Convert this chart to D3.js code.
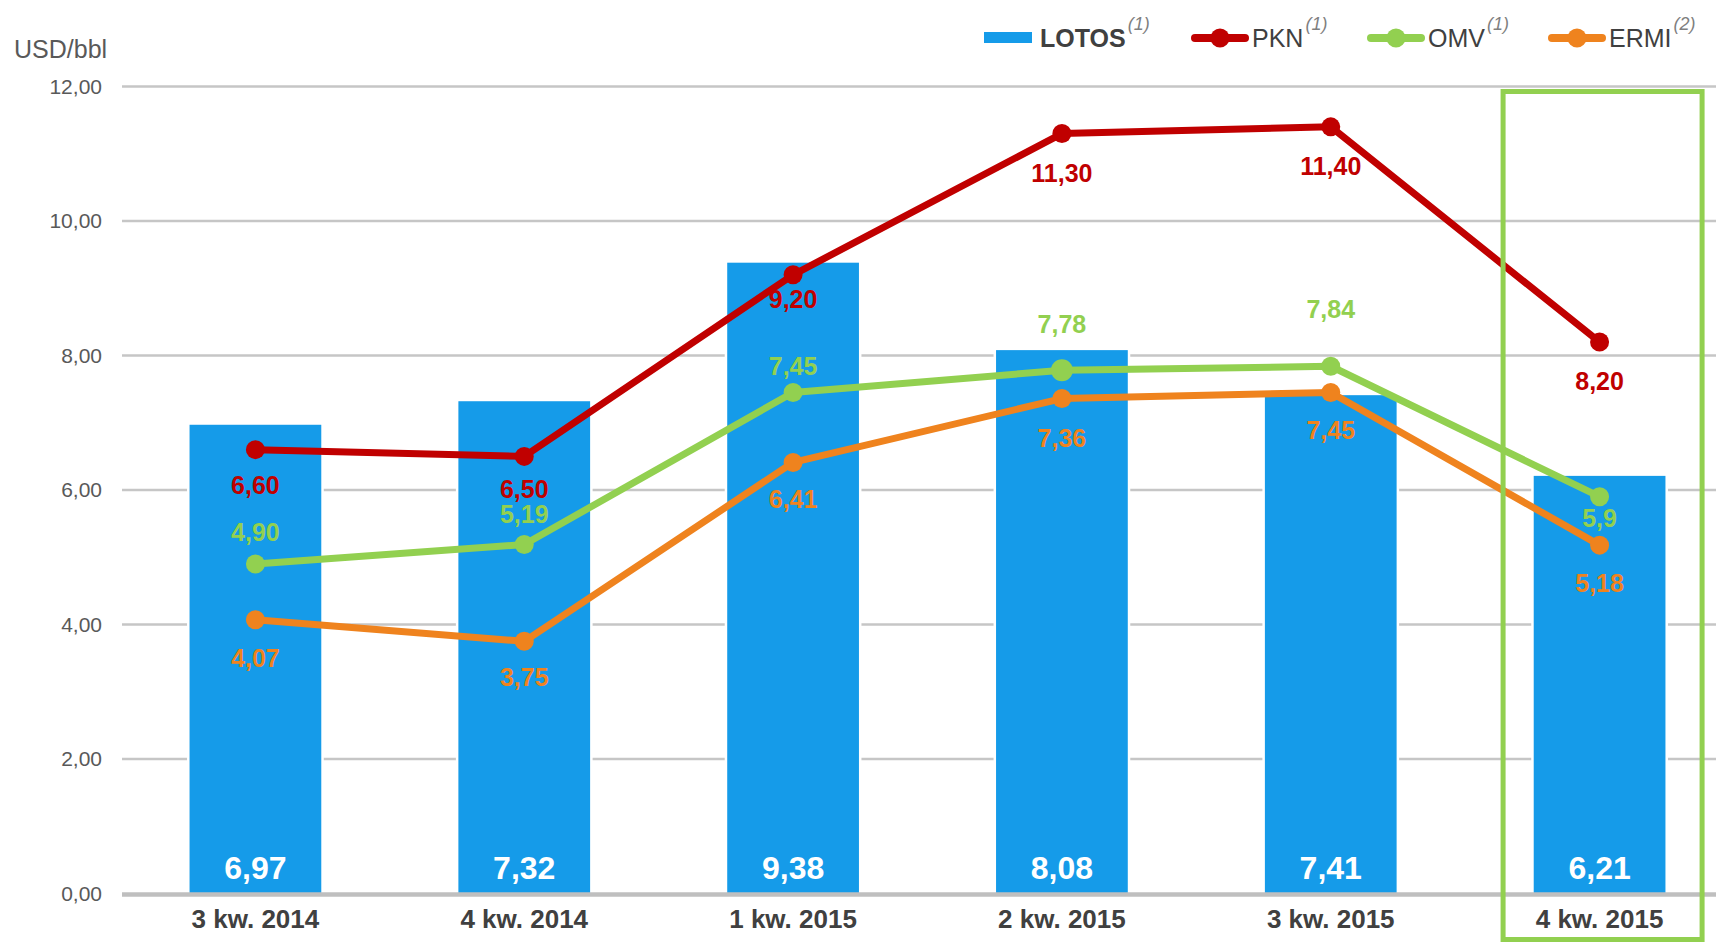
<!DOCTYPE html>
<html>
<head>
  <meta charset=utf-8>
  <title>LOTOS vs PKN / OMV / ERMI</title>
  <script src="https://d3js.org/d3.v7.min.js"></script>
  <style>
    body { margin: 0; background: #fff; }
    svg { display: block; font-family: "Liberation Sans", Arial, sans-serif; }
  </style>
</head>
<body>
<div id="chart"></div>
<script>

// data
var categories = ['3 kw. 2014', '4 kw. 2014', '1 kw. 2015', '2 kw. 2015', '3 kw. 2015', '4 kw. 2015'];
var lotos = [6.97, 7.32, 9.38, 8.08, 7.41, 6.21];
var pkn   = [6.60, 6.50, 9.20, 11.30, 11.40, 8.20];
var omv   = [4.90, 5.19, 7.45, 7.78, 7.84, 5.9];
var ermi  = [4.07, 3.75, 6.41, 7.36, 7.45, 5.18];
var omvText = ['4,90', '5,19', '7,45', '7,78', '7,84', '5,9'];
var yTicks = [0, 2, 4, 6, 8, 10, 12];

var width = 1716, height = 943;
var blue = '#159be9', red = '#c00000', green = '#92d050', orange = '#ef831e';

var fmt = function (v) { return d3.format('.2f')(v).replace('.', ','); };

var series = [
  { name: 'PKN',  sup: '(1)', values: pkn,  color: red,
    text: pkn.map(fmt),  dy: [44, 42, 33, 48, 48, 48] },
  { name: 'OMV',  sup: '(1)', values: omv,  color: green,
    text: omvText,       dy: [-23, -21, -17, -37, -48, 30], big: 3 },
  { name: 'ERMI', sup: '(2)', values: ermi, color: orange,
    text: ermi.map(fmt), dy: [47, 45, 46, 48, 47, 47] }
];

var svg = d3.select('#chart').append('svg')
  .attr('width', width)
  .attr('height', height);

var x = d3.scaleBand()
  .domain(categories)
  .range([121, 1734])
  .paddingInner(0.51)
  .paddingOuter(0.255);

var y = d3.scaleLinear()
  .domain([0, 12])
  .range([893.5, 86.5]);

var cx = function (c) { return x(c) + x.bandwidth() / 2; };

// grid lines
svg.append('g')
  .selectAll('line')
  .data(yTicks.filter(function (t) { return t > 0; }))
  .enter().append('line')
    .attr('x1', 122).attr('x2', width)
    .attr('y1', function (d) { return y(d); })
    .attr('y2', function (d) { return y(d); })
    .attr('stroke', '#c6c6c6')
    .attr('stroke-width', 2.5);

// y tick labels
svg.append('g')
  .selectAll('text')
  .data(yTicks)
  .enter().append('text')
    .attr('x', 102)
    .attr('y', function (d) { return y(d); })
    .attr('dy', '0.35em')
    .attr('text-anchor', 'end')
    .attr('font-size', 21)
    .attr('fill', '#595959')
    .text(fmt);

svg.append('text')
  .attr('x', 14).attr('y', 58)
  .attr('font-size', 25)
  .attr('fill', '#595959')
  .text('USD/bbl');

// bars, with a white gap around them cutting the grid
var bars = svg.append('g');
bars.selectAll('rect.gap')
  .data(lotos)
  .enter().append('rect')
    .attr('class', 'gap')
    .attr('x', function (d, i) { return x(categories[i]) - 2.5; })
    .attr('width', x.bandwidth() + 5)
    .attr('y', function (d) { return y(d) - 2; })
    .attr('height', function (d) { return y(0) - y(d) + 2; })
    .attr('fill', '#fff');

bars.selectAll('rect.bar')
  .data(lotos)
  .enter().append('rect')
    .attr('class', 'bar')
    .attr('x', function (d, i) { return x(categories[i]); })
    .attr('width', x.bandwidth())
    .attr('y', function (d) { return y(d); })
    .attr('height', function (d) { return y(0) - y(d); })
    .attr('fill', blue);

// x axis line
svg.append('line')
  .attr('x1', 122).attr('x2', width)
  .attr('y1', y(0) + 1).attr('y2', y(0) + 1)
  .attr('stroke', '#bfbfbf')
  .attr('stroke-width', 4.5);

// bar values
bars.selectAll('text')
  .data(lotos)
  .enter().append('text')
    .attr('x', function (d, i) { return cx(categories[i]); })
    .attr('y', 879)
    .attr('text-anchor', 'middle')
    .attr('font-size', 32)
    .attr('font-weight', 'bold')
    .attr('fill', '#fff')
    .text(fmt);

// category labels
svg.append('g')
  .selectAll('text')
  .data(categories)
  .enter().append('text')
    .attr('x', cx)
    .attr('y', 928)
    .attr('text-anchor', 'middle')
    .attr('font-size', 26)
    .attr('font-weight', 'bold')
    .attr('fill', '#404040')
    .text(function (d) { return d; });

// lines and markers
var line = d3.line()
  .x(function (d, i) { return cx(categories[i]); })
  .y(function (d) { return y(d); });

series.forEach(function (s) {
  var g = svg.append('g');
  g.append('path')
    .attr('d', line(s.values))
    .attr('fill', 'none')
    .attr('stroke', s.color)
    .attr('stroke-width', 7)
    .attr('stroke-linejoin', 'round');
  g.selectAll('circle')
    .data(s.values)
    .enter().append('circle')
      .attr('cx', function (d, i) { return cx(categories[i]); })
      .attr('cy', function (d) { return y(d); })
      .attr('r', function (d, i) { return i === s.big ? 11 : 9.5; })
      .attr('fill', s.color);
});

// line labels on top
series.forEach(function (s) {
  svg.append('g')
    .selectAll('text')
    .data(s.values)
    .enter().append('text')
      .attr('x', function (d, i) { return cx(categories[i]); })
      .attr('y', function (d, i) { return y(d) + s.dy[i]; })
      .attr('text-anchor', 'middle')
      .attr('font-size', 25)
      .attr('font-weight', 'bold')
      .attr('fill', s.color)
      .text(function (d, i) { return s.text[i]; });
});

// highlight box round the last quarter
var last = categories[categories.length - 1];
svg.append('rect')
  .attr('x', cx(last) - 96.5)
  .attr('y', 91.5)
  .attr('width', 199)
  .attr('height', 848)
  .attr('fill', 'none')
  .attr('stroke', green)
  .attr('stroke-width', 5);

// legend
var legend = svg.append('g').attr('font-size', 25).attr('fill', '#404040');

legend.append('rect')
  .attr('x', 984).attr('y', 32)
  .attr('width', 48).attr('height', 11)
  .attr('fill', blue);
var lt = legend.append('text').attr('x', 1040).attr('y', 47);
lt.append('tspan').attr('font-weight', 'bold').text('LOTOS');
lt.append('tspan').attr('dx', 2).attr('dy', -17).attr('font-size', 18)
  .attr('font-style', 'italic').attr('fill', '#7f7f7f').text('(1)');

var legX = [1191, 1367, 1548];
series.forEach(function (s, i) {
  var x0 = legX[i];
  legend.append('line')
    .attr('x1', x0 + 4).attr('x2', x0 + 54)
    .attr('y1', 38).attr('y2', 38)
    .attr('stroke', s.color)
    .attr('stroke-width', 8)
    .attr('stroke-linecap', 'round');
  legend.append('circle')
    .attr('cx', x0 + 29).attr('cy', 38).attr('r', 9.5)
    .attr('fill', s.color);
  var t = legend.append('text').attr('x', x0 + 61).attr('y', 47);
  t.append('tspan').text(s.name);
  t.append('tspan').attr('dx', 2).attr('dy', -17).attr('font-size', 18)
    .attr('font-style', 'italic').attr('fill', '#7f7f7f').text(s.sup);
});

</script>
</body>
</html>
